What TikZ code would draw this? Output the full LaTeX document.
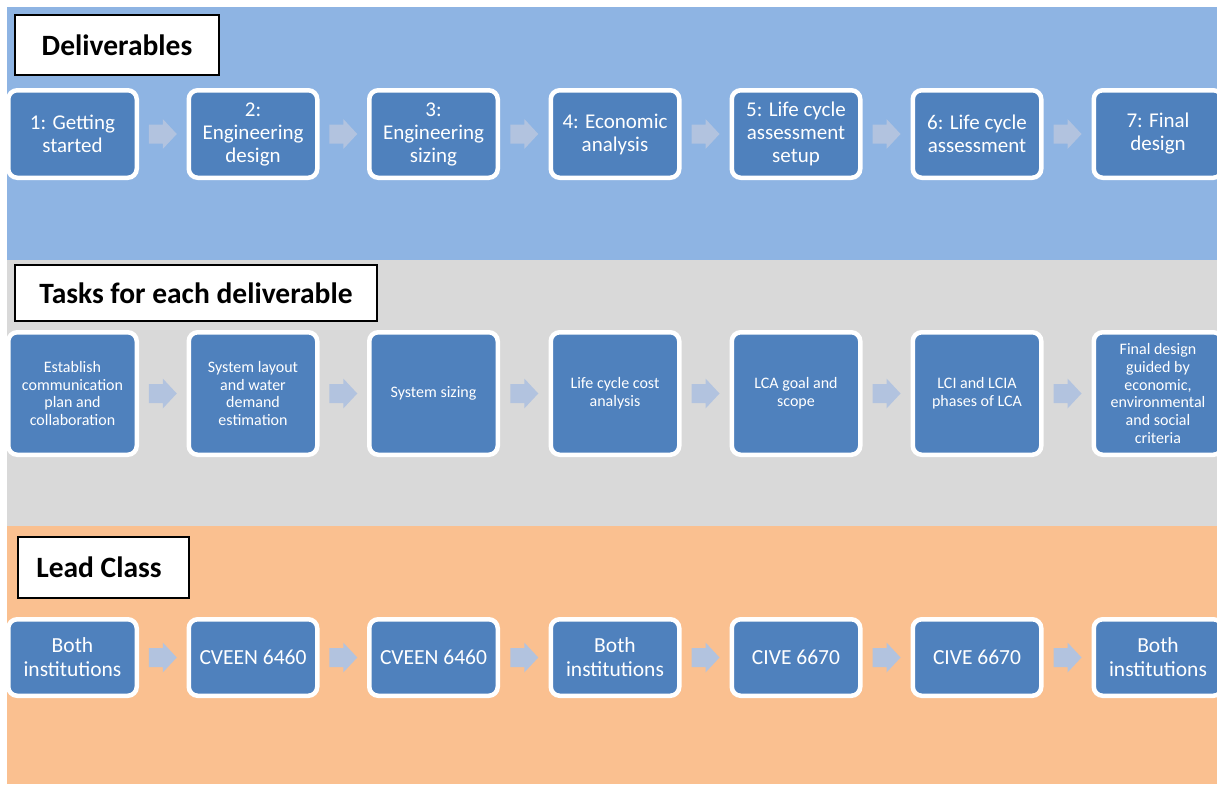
\documentclass[tikz,border=0pt]{standalone}
\usepackage{fontspec}
\setmainfont{Carlito}
\usetikzlibrary{calc}
\definecolor{bandblue}{HTML}{8EB4E3}
\definecolor{bandgray}{HTML}{D9D9D9}
\definecolor{bandorange}{HTML}{FAC090}
\definecolor{boxblue}{HTML}{4F81BD}
\definecolor{arrowblue}{HTML}{B2C3DF}
\tikzset{
  stage/.style={draw=white, line width=4.5pt, fill=boxblue, rounded corners=9pt,
    text=white, align=center, inner sep=0pt, minimum width=128.5pt},
  delbox/.style={stage, minimum height=87.5pt, font=\fontsize{21}{23}\selectfont},
  taskbox/.style={stage, minimum height=122.5pt, font=\fontsize{16}{17.7}\selectfont},
  leadbox/.style={stage, minimum height=76.5pt, font=\fontsize{21.5}{24}\selectfont},
  titlebox/.style={draw=black, line width=2pt, fill=white, inner sep=0pt,
    font=\bfseries\fontsize{29.5}{32}\selectfont},
  flowarrow/.style={fill=arrowblue, draw=none}
}
\newcommand\blockarr[2]{%
  \path ($(#1.east)!0.5!(#2.west)$) coordinate (m#1#2);
  \fill[flowarrow, shift={(m#1#2)}] (-14,-9.5) -- (0,-9.5) -- (0,-15) -- (14,0)
    -- (0,15) -- (0,9.5) -- (-14,9.5) -- cycle;}
\begin{document}
\begin{tikzpicture}[x=1pt,y=-1pt]
\useasboundingbox (0,0) rectangle (1217,784);
\clip (0,0) rectangle (1217,784);
\fill[white] (0,0) rectangle (1217,784);
\fill[bandblue] (7,7) rectangle (1217,260);
\fill[bandgray] (7,260) rectangle (1217,526);
\fill[bandorange] (7,526) rectangle (1217,784);

% titles
\node[titlebox, minimum width=204pt, minimum height=60pt] (t1) at (117,45) {Deliverables};
\node[titlebox, minimum width=362pt, minimum height=56pt] (t2) at (196,293) {Tasks for each deliverable};
\node[titlebox, minimum width=171pt, minimum height=61pt] (t3) at (103.5,567.5) {Lead Class\hspace*{9pt}};

% row 1: deliverables
\node[delbox] (d1) at (72.5,134) {1: Getting\\started};
\node[delbox] (d2) at (253,134) {2:\\Engineering\\design};
\node[delbox] (d3) at (433.5,134) {3:\\Engineering\\sizing};
\node[delbox] (d4) at (615,134) {4: Economic\\analysis};
\node[delbox] (d5) at (796,134) {5: Life cycle\\assessment\\setup};
\node[delbox] (d6) at (977,134) {6: Life cycle\\assessment};
\node[delbox] (d7) at (1158,134) {7: Final\\design};

% row 2: tasks
\node[taskbox] (k1) at (72.5,393.5) {Establish\\communication\\plan and\\collaboration};
\node[taskbox] (k2) at (253,393.5) {System layout\\and water\\demand\\estimation};
\node[taskbox] (k3) at (433.5,393.5) {System sizing};
\node[taskbox] (k4) at (615,393.5) {Life cycle cost\\analysis};
\node[taskbox] (k5) at (796,393.5) {LCA goal and\\scope};
\node[taskbox] (k6) at (977,393.5) {LCI and LCIA\\phases of LCA};
\node[taskbox] (k7) at (1158,393.5) {Final design\\guided by\\economic,\\environmental\\and social\\criteria};

% row 3: lead class
\node[leadbox] (l1) at (72.5,657.5) {Both\\institutions};
\node[leadbox] (l2) at (253,657.5) {CVEEN 6460};
\node[leadbox] (l3) at (433.5,657.5) {CVEEN 6460};
\node[leadbox] (l4) at (615,657.5) {Both\\institutions};
\node[leadbox] (l5) at (796,657.5) {CIVE 6670};
\node[leadbox] (l6) at (977,657.5) {CIVE 6670};
\node[leadbox] (l7) at (1158,657.5) {Both\\institutions};

% arrows
\foreach \r in {d,k,l}{
  \blockarr{\r1}{\r2}\blockarr{\r2}{\r3}\blockarr{\r3}{\r4}
  \blockarr{\r4}{\r5}\blockarr{\r5}{\r6}\blockarr{\r6}{\r7}
}
\end{tikzpicture}
\end{document}
